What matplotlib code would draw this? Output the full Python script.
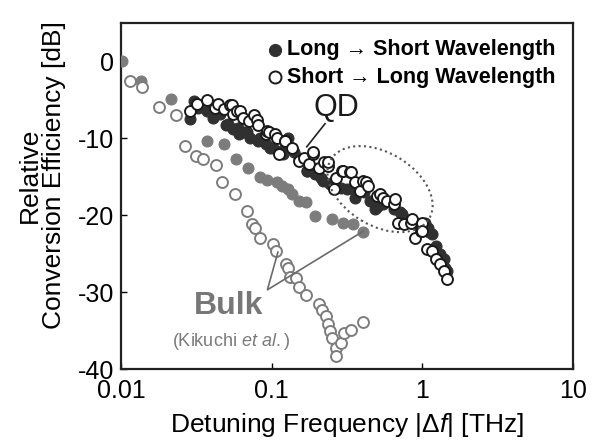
import numpy as np
import matplotlib
matplotlib.use('Agg')
import matplotlib.pyplot as plt
import matplotlib.transforms as mtransforms
from matplotlib.patches import Ellipse

plt.rcParams['font.family'] = ['Liberation Sans', 'DejaVu Sans']
plt.rcParams['mathtext.fontset'] = 'custom'
plt.rcParams['mathtext.rm'] = 'Liberation Sans'
plt.rcParams['mathtext.it'] = 'Liberation Sans:italic'
plt.rcParams['axes.unicode_minus'] = False

# QD, Long -> Short (filled)
qd_long_f = [0.0286, 0.0307, 0.0322, 0.0372, 0.0405, 0.0455, 0.0496, 0.0515, 0.0557, 0.060,
             0.0608, 0.0644, 0.0683, 0.0723, 0.0812, 0.0836, 0.0912, 0.0975, 0.102, 0.115,
             0.119, 0.129, 0.141, 0.153, 0.171, 0.172, 0.193, 0.211, 0.22, 0.244,
             0.258, 0.290, 0.316, 0.344, 0.355, 0.410, 0.448, 0.488, 0.50, 0.548,
             0.652, 0.71, 0.731, 0.822, 0.922, 1.035, 1.097, 1.11, 1.162, 1.231,
             1.305, 1.383, 1.423, 1.465]
qd_long_db = [-7.5, -5.1, -6.0, -6.4, -7.3, -6.8, -8.3, -8.1, -8.8, -8.7,
              -9.4, -9.2, -9.2, -9.9, -10.3, -10.0, -10.7, -11.3, -11.2, -11.6,
              -12.0, -9.9, -11.8, -12.5, -14.2, -14.2, -14.7, -15.1, -15.5, -16.0,
              -15.5, -16.4, -16.6, -16.6, -17.7, -17.0, -18.1, -19.2, -18.9, -18.6,
              -19.2, -19.6, -19.9, -20.7, -21.2, -21.0, -21.6, -22.2, -22.5, -24.0,
              -25.1, -25.7, -26.8, -27.3]

# QD, Short -> Long (open)
qd_short_f = [0.0286, 0.0318, 0.0372, 0.0418, 0.0442, 0.0482, 0.0526, 0.0542, 0.0557, 0.059,
              0.0616, 0.0644, 0.0703, 0.0766, 0.0794, 0.0812, 0.0912, 0.093, 0.0966, 0.105,
              0.108, 0.112, 0.122, 0.122, 0.137, 0.153, 0.163, 0.177, 0.188, 0.189,
              0.205, 0.223, 0.237, 0.237, 0.258, 0.266, 0.292, 0.299, 0.330, 0.335,
              0.355, 0.387, 0.405, 0.423, 0.439, 0.502, 0.523, 0.548, 0.581, 0.652,
              0.657, 0.690, 0.753, 0.845, 0.85, 0.895, 0.977, 1.0, 1.0, 1.067,
              1.162, 1.231, 1.305, 1.383, 1.448]
qd_short_db = [-6.4, -5.5, -5.0, -6.0, -5.5, -6.2, -5.7, -5.7, -6.8, -6.4,
               -6.5, -7.3, -7.7, -7.0, -7.6, -8.3, -9.4, -9.0, -9.2, -9.4,
               -9.9, -12.0, -10.3, -10.4, -11.2, -12.9, -12.5, -13.3, -12.0, -11.8,
               -13.8, -13.1, -13.6, -13.1, -16.6, -15.1, -14.2, -14.2, -14.4, -14.4,
               -15.7, -16.8, -15.5, -15.7, -16.2, -17.5, -17.2, -17.7, -18.1, -18.6,
               -17.9, -21.0, -21.2, -21.0, -20.5, -22.9, -22.0, -21.0, -22.0, -24.4,
               -24.7, -25.7, -26.4, -27.3, -28.3]

# Bulk (Kikuchi et al.), filled
bulk_long_f = [0.0101, 0.0135, 0.0215, 0.037, 0.048, 0.058, 0.070, 0.0835, 0.0937, 0.108,
               0.118, 0.129, 0.137, 0.153, 0.168, 0.193, 0.251, 0.299, 0.345, 0.406]
bulk_long_db = [0.0, -2.5, -4.9, -10.3, -10.8, -12.7, -13.8, -15.0, -15.4, -15.7,
                -16.2, -16.6, -17.3, -18.1, -18.3, -20.1, -20.5, -21.0, -21.2, -22.2]

# Bulk (Kikuchi et al.), open
bulk_short_f = [0.0114, 0.0137, 0.018, 0.023, 0.0267, 0.0313, 0.0351, 0.0425, 0.0469, 0.0567,
                0.0683, 0.0744, 0.0775, 0.0835, 0.102, 0.107, 0.125, 0.128, 0.133, 0.145,
                0.153, 0.170, 0.205, 0.217, 0.228, 0.237, 0.244, 0.251, 0.266, 0.269,
                0.290, 0.303, 0.335, 0.406]
bulk_short_db = [-2.5, -3.3, -5.9, -7.0, -11.0, -12.3, -12.7, -13.5, -15.7, -17.3,
                 -19.5, -21.1, -21.6, -23.0, -23.8, -24.6, -26.4, -26.8, -28.0, -28.1,
                 -29.4, -30.4, -31.6, -32.3, -33.1, -34.1, -35.1, -36.0, -37.3, -38.3,
                 -36.6, -35.3, -34.9, -33.9]

fig = plt.figure(figsize=(5.95, 4.4), dpi=100)
ax = fig.add_axes([121 / 595, 1 - 369 / 440, 452 / 595, 346 / 440])

ms = 62
ax.scatter(bulk_long_f, bulk_long_db, s=ms, color='#7c7c7c', edgecolors='#7c7c7c', linewidths=0.8, zorder=3)
ax.scatter(bulk_short_f, bulk_short_db, s=ms, facecolors='white', edgecolors='#7c7c7c', linewidths=1.4, zorder=3)
h1 = ax.scatter(qd_long_f, qd_long_db, s=ms, color='#303030', edgecolors='#303030', linewidths=0.8, zorder=4)
h2 = ax.scatter(qd_short_f, qd_short_db, s=ms, facecolors='white', edgecolors='#1a1a1a', linewidths=1.4, zorder=5)

ax.set_xscale('log')
ax.set_xlim(0.01, 10)
ax.set_ylim(-40, 5)
ax.set_xticks([0.01, 0.1, 1, 10])
ax.set_xticklabels(['0.01', '0.1', '1', '10'])
ax.set_yticks([0, -10, -20, -30, -40])
ax.minorticks_off()
ax.tick_params(direction='in', length=4, width=1, labelsize=18, pad=5)
ax.tick_params(axis='x', pad=7)
for sp in ax.spines.values():
    sp.set_linewidth(1.6)
    sp.set_color('#222222')

ax.set_xlabel(r'Detuning Frequency |$\Delta$$\it{f}$| [THz]', fontsize=19, labelpad=6)
fig.text(42 / 595, 1 - 175 / 440, 'Relative\nConversion Efficiency [dB]', rotation=90,
         ha='center', va='center', multialignment='center', fontsize=19, linespacing=1.0)

leg = ax.legend([h1, h2], ['Long \u2192 Short Wavelength', 'Short \u2192 Long Wavelength'],
                loc='upper right', bbox_to_anchor=(0.99, 0.99), frameon=False,
                prop={'size': 15.5, 'weight': 'bold'}, handletextpad=0.05,
                labelspacing=0.3, borderaxespad=0.2, handlelength=1.0, markerscale=1.1)

# QD label and pointer
ax.text(0.267, -6.1, 'QD', fontsize=22, ha='center', va='center', color='#1a1a1a')
ax.plot([0.226, 0.171], [-8.1, -11.1], color='#222222', lw=1.2, zorder=6)

# dotted ellipse around the QD roll-off
tr = fig.dpi_scale_trans + mtransforms.ScaledTranslation(0.524, -16.6, ax.transData)
ax.add_patch(Ellipse((0, 0), 2 * 0.573, 2 * 0.365, angle=-31, transform=tr, fill=False,
                     edgecolor='#555555', lw=1.5, linestyle=(0, (1, 1.6)), zorder=6))

# Bulk label and pointers
ax.text(0.052, -31.8, 'Bulk', fontsize=23, fontweight='bold', ha='center', va='center', color='#777777')
ax.text(0.054, -36.4, r'(Kikuchi $\it{et\ al.}$)', fontsize=13, ha='center', va='center', color='#7a7a7a')
ax.plot([0.110, 0.0937, 0.404], [-24.8, -29.7, -22.1], color='#6a6a6a', lw=1.2, zorder=6)

fig.savefig('out.png', dpi=100)
